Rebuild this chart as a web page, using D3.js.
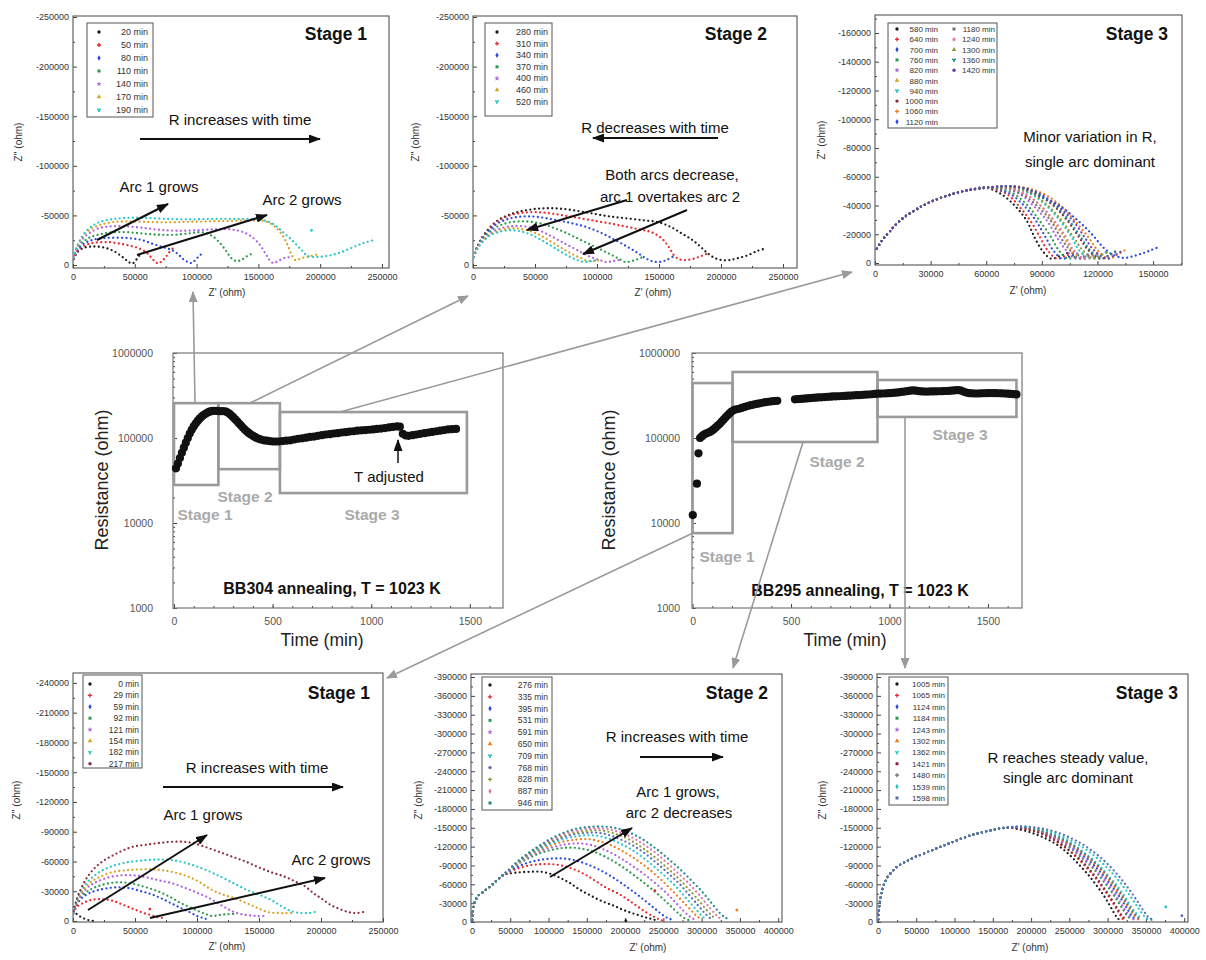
<!DOCTYPE html>
<html>
<head>
<meta charset="utf-8">
<script src="https://cdn.jsdelivr.net/npm/d3@7"></script>
<style>
  body { margin: 0; background: #fff; }
  svg { display: block; font-family: "Liberation Sans", Arial, sans-serif; }
</style>
</head>
<body>
<svg id="fig" width="1206" height="960"></svg>
<script>
// ---------------- data (impedance in kOhm, time in min) ----------------

// BB304, stage 1 (top left)
const tlTimes = [20, 50, 80, 110, 140, 170, 190];
const tlArcs = [
  [[0.5,6],[3,12],[8,17],[14,18.5],[20,18.5],[27,17],[33,14],[38,10],[42,6],[45,3],[48,1.5],[51,5],[54,10],[56,12]],
  [[0.5,6],[3,13],[8,19],[15,22],[22,23],[30,23],[38,21.5],[46,19.5],[53,17],[59,13],[63,8],[66,4],[69,1.5],[72,4],[75,8],[78,13],[81,17]],
  [[0.5,7],[3,14],[8,21],[15,25],[24,27],[35,27.5],[46,27],[56,25],[65,21],[73,18],[80,15],[85,11],[89,6],[93,3],[96,2],[99,5],[102,9],[105,12]],
  [[0.5,7],[3,15],[8,23],[14,28],[22,31],[32,33],[45,33],[58,31.5],[70,30.5],[82,30.5],[95,32],[105,33],[113,29],[119,22],[124,14],[128,7],[132,4],[136,5],[141,9],[146,12]],
  [[0.5,7],[3,16],[7,25],[13,32],[21,37],[31,39],[43,39],[56,37.5],[70,35.5],[85,34.5],[100,35],[114,36],[127,36],[138,33],[146,27],[152,19],[156,11],[159,5],[162,2],[166,4],[171,7],[176,8]],
  [[0.5,8],[3,17],[7,27],[13,35],[21,40],[31,43],[43,44],[58,43.5],[75,43],[92,43.5],[110,44],[128,44.5],[145,45],[156,44],[164,38],[170,29],[174,19],[177,10],[180,5],[185,7],[192,9],[200,11]],
  [[0.5,8],[3,18],[7,28],[13,37],[21,43],[31,46],[43,47.5],[58,47.5],[75,46.5],[95,46],[115,46.5],[135,46.5],[150,46],[161,42],[170,33],[178,24],[185,15],[190,9],[197,8],[205,9],[215,12],[225,17],[235,22],[243,25]]
];
const tlStray = [[6, 193, 35]];   // [series, Z', -Z'']

// BB304, stage 2 (top middle)
const tmTimes = [280, 310, 340, 370, 400, 460, 520];
const tmArcs = [
  [[0.5,8],[3,17],[7,27],[13,37],[20,45],[30,51],[42,55],[55,57],[68,57],[82,55],[96,52],[110,49],[124,47],[138,45],[150,43],[160,38],[168,32],[176,26],[183,19],[189,12],[195,7],[201,5],[207,5],[214,7],[222,10],[229,14],[234,16]],
  [[0.5,8],[3,17],[7,27],[13,36],[20,44],[30,50],[42,53],[55,53],[68,51],[82,48],[96,45],[110,42],[122,39],[134,36],[144,33],[152,27],[158,18],[162,10],[166,6],[171,5],[177,6],[184,9],[190,12]],
  [[0.5,8],[3,17],[7,26],[13,35],[20,42],[30,47],[42,49],[55,48],[68,45],[80,42],[92,38],[104,32],[115,25],[125,18],[133,12],[139,7],[144,4],[150,3],[156,5],[162,9]],
  [[0.5,8],[3,16],[7,25],[13,33],[20,39],[30,43],[42,44],[54,42],[64,38],[74,33],[84,27],[94,21],[104,15],[112,10],[118,6],[123,3],[128,4],[133,6],[137,8]],
  [[0.5,8],[3,16],[7,24],[13,31],[20,36],[30,39],[41,39],[51,36],[60,31],[69,25],[78,19],[87,13],[95,8],[102,5],[108,3],[113,4],[118,5]],
  [[0.5,8],[3,15],[7,23],[13,30],[20,34],[30,37],[40,36],[49,33],[57,28],[65,22],[73,16],[80,11],[87,7],[93,4],[98,4],[103,5]],
  [[0.5,8],[3,15],[7,22],[13,29],[20,33],[29,35],[38,34],[46,31],[54,26],[62,20],[70,14],[77,9],[84,5],[90,3],[95,4],[100,5]]
];

// BB304, stage 3 (top right): shared high-frequency part + each spectrum's tail
const trTimes = [580, 640, 700, 760, 820, 880, 940, 1000, 1060, 1120, 1180, 1240, 1300, 1360, 1420];
const trHead = [[1,10],[4,16],[8,22],[14,30],[22,37],[31,43],[42,48],[52,51]];
const trTails = [
  [[59,52.5],[68,48],[76,39],[82,29],[86,18],[90,9],[95,3],[100,5],[104,7]],
  [[61,52.5],[71,48],[78,39],[84,29],[89,18],[93,9],[98,3],[103,5],[107,7]],
  [[63,52.5],[73,48],[81,39],[87,29],[92,18],[96,9],[101,3],[106,5],[110,7]],
  [[64,52.5],[75,48],[83,39],[89,29],[95,18],[99,9],[104,3],[109,5],[113,7]],
  [[67,52.5],[78,48],[86,39],[93,29],[98,18],[103,9],[108,3],[113,5],[117,7]],
  [[69,52.5],[81,48],[90,39],[96,29],[102,18],[106,9],[112,3],[117,5],[121,7]],
  [[72,52.5],[84,48],[93,39],[100,29],[106,18],[110,9],[116,3],[121,5],[125,8]],
  [[75,53],[87,48],[97,39],[104,29],[110,18],[115,9],[121,3],[126,5],[130,8]],
  [[78,53],[91,48],[101,39],[108,29],[115,18],[120,9],[126,3],[131,6],[135,9]],
  [[75,53],[87,47],[98,41],[109,30],[117,20],[123,11],[128,6],[134,3.5],[140,5],[145,7],[149,9],[153,11]],
  [[68,52.5],[79,48],[88,39],[95,29],[100,18],[105,9],[110,3],[115,5],[119,7]],
  [[70,52.5],[81,48],[90,39],[97,29],[103,18],[107,9],[113,3],[118,5],[122,7]],
  [[73,52.5],[85,48],[94,39],[101,29],[107,18],[112,9],[118,3],[123,6],[127,8]],
  [[76,53],[88,48],[98,39],[105,29],[111,18],[116,9],[122,3],[127,6],[131,9]],
  [[77,53],[89,48],[99,39],[107,29],[113,18],[118,9],[125,3],[130,6],[134,9]]
];

// BB295, stage 1 (bottom left)
const blTimes = [0, 29, 59, 92, 121, 154, 182, 217];
const blArcs = [
  [[0.3,10],[2,8],[5,5],[8,3],[11,1.5],[14,0.5],[16,0.2]],
  [[0.5,8],[3,14],[8,18],[14,21],[20,22],[27,21.5],[33,20],[39,17],[45,14],[51,11],[57,8],[63,6],[68,4],[73,3]],
  [[0.5,8],[3,16],[7,23],[13,28],[20,31],[28,33],[37,34],[46,33],[55,30],[63,27],[71,23],[79,18],[87,13],[94,9],[100,5],[105,3],[109,1.5]],
  [[0.5,8],[3,17],[7,25],[13,31],[20,35],[29,38],[38,39],[47,38],[56,35],[64,32],[72,28],[80,23],[87,18],[94,14],[101,10],[107,7],[112,5],[118,6],[125,7],[131,7]],
  [[0.5,8],[3,18],[7,27],[13,35],[20,40],[29,44],[39,46],[49,46],[59,44],[69,41],[80,38],[91,33],[101,28],[110,23],[118,17],[125,12],[132,8],[140,6],[148,5],[154,5]],
  [[0.5,9],[3,19],[7,29],[13,38],[21,44],[31,49],[42,51],[54,52],[66,52],[78,50],[90,46],[101,40],[111,32],[120,27],[130,23],[140,18],[149,13],[157,9],[165,8],[172,8],[176,8]],
  [[0.5,9],[3,20],[7,31],[13,41],[21,49],[31,55],[43,59],[56,61],[69,62],[82,61],[95,57],[108,51],[120,44],[131,37],[141,31],[151,26],[160,21],[168,15],[176,10],[184,8],[190,8],[195,9]],
  [[0.5,10],[3,22],[7,34],[12,45],[18,54],[25,61],[32,66],[40,71],[49,75],[60,77],[72,79],[84,80],[95,79],[106,75],[117,70],[128,65],[139,60],[150,54],[160,49],[170,45],[179,40],[187,35],[194,28],[201,22],[208,16],[215,12],[222,9],[228,8],[234,9]]
];
const blStray = [[1, 62, 12]];

// BB295, stage 2 (bottom middle)
const bmTimes = [276, 335, 395, 531, 591, 650, 709, 768, 828, 887, 946];
const bmHead = [[0.2,3],[0.8,12],[1.7,22],[3.5,31],[6,38],[10,44],[15,48],[20,53],[27,60],[34,68],[41,75]];
const bmTails = [
  [[48,77],[62,79],[76,80],[90,80],[104,76],[117,69],[128,62],[140,52],[155,42],[170,33],[185,26],[198,19],[212,13],[225,8],[234,5],[240,3]],
  [[46,78],[60,85],[75,90],[90,92],[105,92],[120,89],[135,83],[150,74],[163,64],[176,54],[190,46],[203,36],[216,25],[228,15],[238,8],[245,4],[250,2]],
  [[46,79],[60,88],[75,95],[90,99],[105,101],[120,101],[135,98],[150,92],[165,84],[180,74],[195,62],[210,49],[225,35],[238,22],[248,12],[256,6],[263,3]],
  [[46,80],[60,92],[75,102],[90,110],[105,115],[120,118],[135,118],[150,115],[165,109],[180,100],[195,89],[210,76],[225,62],[240,47],[253,33],[264,20],[273,10],[279,5],[283,3]],
  [[46,80],[60,93],[75,104],[90,113],[105,119],[120,123],[135,125],[150,124],[165,119],[180,111],[195,101],[210,89],[225,76],[240,61],[254,46],[266,31],[276,18],[284,9],[289,5],[292,3]],
  [[46,80],[60,94],[75,106],[90,115],[105,123],[120,128],[135,131],[150,132],[165,129],[180,123],[195,114],[210,103],[225,90],[240,75],[254,59],[267,43],[279,28],[289,15],[295,8],[300,4]],
  [[46,80],[60,94],[75,107],[90,117],[105,126],[120,132],[135,136],[150,138],[165,137],[180,132],[195,124],[210,114],[225,101],[240,86],[255,70],[269,53],[281,36],[292,21],[300,10],[306,4]],
  [[46,80],[60,95],[75,108],[90,119],[105,128],[120,135],[135,140],[150,142],[165,142],[180,138],[195,131],[210,122],[225,110],[240,95],[255,79],[270,62],[283,44],[295,27],[304,14],[312,5]],
  [[46,80],[60,95],[75,109],[90,120],[105,130],[120,137],[135,142],[150,145],[165,146],[180,143],[195,137],[210,128],[225,116],[240,102],[255,86],[270,69],[284,51],[297,33],[308,17],[315,8],[318,4]],
  [[46,80],[60,96],[75,110],[90,122],[105,132],[120,140],[135,145],[150,148],[165,149],[180,147],[195,142],[210,134],[225,123],[240,110],[255,94],[270,77],[285,59],[299,40],[311,22],[320,10],[326,4]],
  [[46,81],[60,97],[75,111],[90,123],[105,134],[120,142],[135,148],[150,151],[165,152],[180,151],[195,147],[210,140],[225,130],[240,117],[255,102],[270,86],[285,68],[300,49],[313,30],[324,14],[331,7],[336,4]]
];
const bmStray = [[1, 239, 50], [5, 346, 19], [0, 201, 2]];

// BB295, stage 3 (bottom right)
const brTimes = [1005, 1065, 1124, 1184, 1243, 1302, 1362, 1421, 1480, 1539, 1598];
const brHead = [[0.3,4],[1.5,22],[3.5,40],[6,53],[9,63],[13,72],[18,80],[25,88],[35,95],[48,103],[62,110],[78,118],[95,126],[112,134],[130,141],[148,146],[166,150]];
const brTails = [
  [[186,147],[203,141],[219,133],[235,122],[250,107],[262,92],[274,76],[285,59],[295,42],[303,26],[309,13],[313,6],[316,3]],
  [[188,149],[206,144],[222,136],[238,124],[253,110],[266,95],[278,79],[289,62],[299,45],[308,28],[315,14],[319,6],[322,3]],
  [[188,150],[207,146],[224,139],[241,129],[257,116],[272,102],[285,87],[297,70],[308,53],[318,36],[326,20],[332,9],[337,4]],
  [[188,150],[206,145],[223,138],[239,127],[255,114],[269,99],[282,84],[293,67],[304,50],[313,33],[321,18],[327,8],[332,4]],
  [[188,150],[207,146],[223,138],[240,128],[256,115],[270,100],[283,85],[295,68],[306,51],[315,34],[323,19],[329,9],[334,4]],
  [[188,151],[207,147],[225,140],[242,130],[258,118],[273,104],[286,89],[298,72],[309,55],[319,38],[328,22],[335,10],[340,4]],
  [[188,151],[208,148],[226,141],[243,132],[259,120],[274,106],[288,91],[300,75],[312,58],[322,41],[331,24],[339,11],[345,5]],
  [[188,149],[206,144],[222,136],[238,125],[253,111],[267,96],[279,80],[290,63],[300,46],[309,29],[316,15],[321,7],[325,3]],
  [[188,151],[207,147],[225,140],[242,131],[258,119],[273,105],[287,90],[299,74],[310,57],[320,40],[329,23],[337,10],[342,4]],
  [[188,152],[208,149],[227,143],[245,134],[262,123],[278,110],[292,95],[305,79],[317,62],[328,44],[338,26],[346,12],[352,5],[360,3]],
  [[188,152],[209,150],[228,145],[246,137],[264,126],[280,113],[295,98],[308,82],[320,65],[331,47],[341,29],[349,14],[355,6],[362,4]]
];
const brStray = [[9, 376, 24], [10, 397, 10]];

// resistance vs time, [min, kOhm]
const bb304Res = [
  [10,44],[20,50],[30,58],[40,67],[50,77],[60,88],[70,100],[80,113],[90,125],[100,137],[110,148],[120,159],[130,169],[140,178],[150,186],[160,193],[170,199],[180,204],[190,207],[200,208],[215,208],[230,207],[245,207],[260,206],[270,201],[280,194],[290,185],[300,176],[310,166],[320,157],[330,148],[340,140],[350,132],[360,125],[370,119],[380,114],[390,110],[400,106],[410,103],[420,100],[430,98],[440,96],[455,94],[470,93],[485,92],[500,91],[515,91],[530,91],
  [550,92],[570,93],[590,94],[610,96],[630,98],[650,99],[670,101],[690,103],[710,104],[730,106],[750,108],[770,110],[790,111],[810,113],[830,114],[850,116],[870,117],[890,119],[910,120],[930,122],[950,123],[970,124],[990,125],[1010,126],[1030,128],[1050,129],[1070,131],[1090,133],[1110,135],[1130,137],[1145,136],
  [1160,112],[1175,107],[1190,106],[1210,108],[1230,110],[1250,112],[1270,114],[1290,116],[1310,118],[1330,120],[1350,122],[1370,124],[1390,126],[1410,127],[1430,128]
];
const bb295Res = [
  [1,12.4],[22,29],[30,66],[38,100],[48,105],[58,110],[68,113],[78,115],[88,118],[98,122],[108,127],[118,133],[128,140],[138,147],[148,156],[158,165],[168,175],[178,185],[188,195],[198,205],[210,213],[222,218],[236,221],[250,226],[265,232],[280,238],[295,243],[310,247],[325,252],[340,256],[355,260],[370,264],[385,267],[400,270],[415,272],[430,274],
  [520,285],[535,287],[550,288],[565,290],[580,292],[595,294],[610,296],[625,298],[640,300],[655,301],[670,303],[685,305],[700,306],[715,308],[730,309],[745,310],[760,312],[775,313],[790,315],[805,316],[820,318],[835,319],[850,320],[865,322],[880,324],[895,325],[910,327],[925,330],[940,332],[955,333],[970,334],[985,335],[1000,337],[1015,339],[1030,341],[1045,344],[1060,348],[1075,352],[1090,356],[1105,360],[1120,363],[1135,360],[1150,356],[1165,353],[1180,352],[1195,352],[1210,353],[1225,353],[1240,354],[1255,355],[1270,356],[1285,357],[1300,358],[1315,360],[1330,363],[1345,366],[1360,363],[1375,352],[1390,342],[1405,337],[1420,335],[1435,334],[1450,334],[1465,335],[1480,336],[1495,337],[1510,338],[1525,338],[1540,337],[1555,336],[1570,335],[1585,334],[1600,332],[1615,330],[1630,328],[1645,326]
];
// stage windows [t0, t1, Rlow, Rhigh] (min, kOhm)
const bb304Stages = [[0,225,28,257],[225,537,43,257],[537,1485,22.5,202]];
const bb295Stages = [[0,203,7.6,443],[203,939,89.8,598],[939,1645,177,481]];

// ---------------- drawing ----------------
const K = 1000;
const FONT = "'Liberation Sans', Arial, sans-serif";
const svg = d3.select("#fig");
const defs = svg.append("defs");
const fmt = d3.format("d");

const C = {k:"#1a1a1a", r:"#e8282b", b:"#2848e0", g:"#2a9a4a", p:"#b060e0", o:"#d9a020",
           c:"#25c6c6", br:"#8a2a3a", or:"#f07a18", gy:"#707070", pk:"#e070b0", ol:"#8a9a30",
           tl:"#1a8a8a", nv:"#5a6ab8", vi:"#6a3ab0"};

function arrowHead(id, color, w, h) {
  defs.append("marker").attr("id", id)
    .attr("viewBox", `0 0 ${w} ${h}`).attr("refX", w - 1).attr("refY", h / 2)
    .attr("markerWidth", w).attr("markerHeight", h)
    .attr("markerUnits", "userSpaceOnUse").attr("orient", "auto")
    .append("path").attr("d", `M0,0L${w},${h/2}L0,${h}z`).attr("fill", color);
}
arrowHead("ahBlack", "#111", 12, 9);
arrowHead("ahGray", "#9a9a9a", 11, 9);

function arrow(g, a, color, width, head) {
  g.append("line")
    .attr("x1", a[0]).attr("y1", a[1]).attr("x2", a[2]).attr("y2", a[3])
    .attr("stroke", color).attr("stroke-width", width)
    .attr("marker-end", `url(#${head})`);
}

function styleAxis(s, fs, col) {
  s.select(".domain").remove();
  s.selectAll("text").attr("font-size", fs).attr("font-family", FONT).attr("fill", col || "#333");
  s.selectAll("line").attr("stroke", "#444");
}

function range(a, b, step) { return d3.range(a, b + step / 2, step); }

function nyquist(p) {
  const g = svg.append("g");
  const [L, T, R, B] = p.box;
  const x = d3.scaleLinear().domain(p.xd).range([L, R]);
  const y = d3.scaleLinear().domain(p.yd).range([B, T]);

  g.append("g").attr("transform", `translate(0,${B})`)
    .call(d3.axisBottom(x).tickValues(p.xt).tickSize(-4).tickPadding(6).tickFormat(fmt))
    .call(styleAxis, 9);
  g.append("g").attr("transform", `translate(0,${B})`)
    .call(d3.axisBottom(x).tickValues(p.xm).tickSize(-2).tickFormat(""))
    .call(styleAxis, 9);
  g.append("g").attr("transform", `translate(${L},0)`)
    .call(d3.axisLeft(y).tickValues(p.yt).tickSize(-4).tickPadding(4)
      .tickFormat(d => d ? "-" + fmt(d) : "0"))
    .call(styleAxis, 9);
  g.append("g").attr("transform", `translate(${L},0)`)
    .call(d3.axisLeft(y).tickValues(p.ym).tickSize(-2).tickFormat(""))
    .call(styleAxis, 9);

  g.append("rect").attr("x", L).attr("y", T).attr("width", R - L).attr("height", B - T)
    .attr("fill", "none").attr("stroke", "#555").attr("stroke-width", 1.1);

  const cid = "clip-" + p.name;
  defs.append("clipPath").attr("id", cid).append("rect")
    .attr("x", L).attr("y", T).attr("width", R - L).attr("height", B - T);

  const line = d3.line()
    .x(d => x(d[0] * K)).y(d => y(d[1] * K))
    .curve(d3.curveCatmullRom.alpha(0.5));

  const plot = g.append("g").attr("clip-path", `url(#${cid})`);
  plot.selectAll("path").data(p.arcs).join("path")
    .attr("d", line).attr("fill", "none")
    .attr("stroke", (d, i) => p.colors[i])
    .attr("stroke-width", 2.3).attr("stroke-linecap", "round")
    .attr("stroke-dasharray", "0 4.4");
  plot.selectAll("circle").data(p.stray || []).join("circle")
    .attr("cx", d => x(d[1] * K)).attr("cy", d => y(d[2] * K)).attr("r", 1.4)
    .attr("fill", d => p.colors[d[0]]);

  // legend
  const lg = p.legend;
  g.append("rect").attr("x", lg.x).attr("y", lg.y).attr("width", lg.w).attr("height", lg.h)
    .attr("fill", "#fff").attr("stroke", "#555").attr("stroke-width", 1);
  const syms = d3.symbolsFill || d3.symbols;
  p.times.forEach((t, i) => {
    const col = Math.floor(i / lg.rows), row = i % lg.rows;
    const cy = lg.row0 + row * lg.pitch;
    g.append("path")
      .attr("transform", `translate(${lg.x + lg.mx + col * lg.colw},${cy})`)
      .attr("d", d3.symbol(syms[i % syms.length], 9)())
      .attr("fill", p.colors[i]);
    g.append("text")
      .attr("x", lg.x + lg.tx + col * lg.colw).attr("y", cy + 3)
      .attr("text-anchor", "end").attr("font-size", lg.fs).attr("fill", "#333")
      .text(t + " min");
  });

  // labels
  g.append("text").attr("x", p.title[0]).attr("y", p.title[1]).attr("text-anchor", "end")
    .attr("font-size", 17.5).attr("font-weight", "bold").attr("fill", "#111").text(p.title[2]);
  g.append("text").attr("transform", `translate(${p.ylab[0]},${p.ylab[1]}) rotate(-90)`)
    .attr("text-anchor", "middle").attr("font-size", 10).attr("fill", "#333").text("Z'' (ohm)");
  g.append("text").attr("x", p.xlab[0]).attr("y", p.xlab[1])
    .attr("text-anchor", "middle").attr("font-size", 10).attr("fill", "#333").text("Z' (ohm)");
  p.notes.forEach(n => {
    g.append("text").attr("x", n[1]).attr("y", n[2]).attr("text-anchor", "middle")
      .attr("font-size", 15).attr("fill", "#111").text(n[0]);
  });
  p.arrows.forEach(a => arrow(g, a, "#111", 2, "ahBlack"));
}

function timePanel(p) {
  const g = svg.append("g");
  const [L, T, R, B] = p.box;
  const x = d3.scaleLinear().domain(p.xd).range([L, R]);
  const y = d3.scaleLog().domain([1000, 1e6]).range([B, T]);
  const minorY = [];
  [1e3, 1e4, 1e5].forEach(d => d3.range(2, 10).forEach(m => minorY.push(d * m)));

  g.append("g").attr("transform", `translate(0,${B})`)
    .call(d3.axisBottom(x).tickValues([0, 500, 1000, 1500]).tickSize(-4).tickPadding(10).tickFormat(fmt))
    .call(styleAxis, 10.5, "#555");
  g.append("g").attr("transform", `translate(0,${B})`)
    .call(d3.axisBottom(x).tickValues(d3.range(100, p.xd[1], 100)).tickSize(-2).tickFormat(""))
    .call(styleAxis, 10);
  g.append("g").attr("transform", `translate(${L},0)`)
    .call(d3.axisLeft(y).tickValues([1e3, 1e4, 1e5, 1e6]).tickSize(-4).tickPadding(p.ypad).tickFormat(fmt))
    .call(styleAxis, 10.5, "#555");
  g.append("g").attr("transform", `translate(${L},0)`)
    .call(d3.axisLeft(y).tickValues(minorY).tickSize(-2).tickFormat(""))
    .call(styleAxis, 10);

  g.append("rect").attr("x", L).attr("y", T).attr("width", R - L).attr("height", B - T)
    .attr("fill", "none").attr("stroke", "#777").attr("stroke-width", 1.2);

  g.append("g").selectAll("rect").data(p.stages).join("rect")
    .attr("x", d => x(d[0])).attr("width", d => x(d[1]) - x(d[0]))
    .attr("y", d => y(d[3] * K)).attr("height", d => y(d[2] * K) - y(d[3] * K))
    .attr("fill", "none").attr("stroke", "#9a9a9a").attr("stroke-width", 2.6);

  g.append("g").selectAll("circle").data(p.points).join("circle")
    .attr("cx", d => x(d[0])).attr("cy", d => y(d[1] * K)).attr("r", 4.1)
    .attr("fill", "#111");

  p.stageLabels.forEach(s => {
    g.append("text").attr("x", s[1]).attr("y", s[2]).attr("text-anchor", "middle")
      .attr("font-size", 15.5).attr("font-weight", "bold").attr("fill", "#aaa").text(s[0]);
  });
  g.append("text").attr("transform", `translate(${p.ylab[0]},${p.ylab[1]}) rotate(-90)`)
    .attr("text-anchor", "middle").attr("font-size", 18).attr("fill", "#222").text("Resistance (ohm)");
  g.append("text").attr("x", p.xlab[0]).attr("y", p.xlab[1]).attr("text-anchor", "middle")
    .attr("font-size", 17.5).attr("fill", "#222").text("Time (min)");
  g.append("text").attr("x", p.name[1]).attr("y", p.name[2]).attr("text-anchor", "middle")
    .attr("font-size", 16).attr("font-weight", "bold").attr("fill", "#111").text(p.name[0]);
  return g;
}

// ---------- impedance panels ----------
const xt250 = range(0, 250000, 50000), xm250 = range(25000, 225000, 50000);
const yt250 = range(0, 250000, 50000), ym250 = range(25000, 225000, 50000);

nyquist({
  name: "tl", box: [73, 16, 389, 268], xd: [0, 255700], yd: [-3000, 251000],
  xt: xt250, xm: xm250, yt: yt250, ym: ym250,
  arcs: tlArcs, stray: tlStray, times: tlTimes, colors: [C.k, C.r, C.b, C.g, C.p, C.o, C.c],
  legend: {x: 87, y: 23, w: 66, h: 94, rows: 7, row0: 32, pitch: 13, mx: 12, tx: 61, colw: 0, fs: 9},
  title: [367, 40, "Stage 1"], ylab: [22, 142], xlab: [227, 296],
  notes: [["R increases with time", 240, 125], ["Arc 1 grows", 159, 192], ["Arc 2 grows", 302, 205]],
  arrows: [[140, 139, 320, 139], [97, 240, 168, 204], [137, 255, 267, 215]]
});

nyquist({
  name: "tm", box: [473, 16, 797, 268], xd: [0, 261300], yd: [-3000, 251000],
  xt: xt250, xm: xm250, yt: yt250, ym: ym250,
  arcs: tmArcs, times: tmTimes, colors: [C.k, C.r, C.b, C.g, C.p, C.o, C.c],
  legend: {x: 485, y: 23, w: 67, h: 93, rows: 7, row0: 32, pitch: 11.6, mx: 12, tx: 63, colw: 0, fs: 9},
  title: [767, 40, "Stage 2"], ylab: [419, 142], xlab: [653, 296],
  notes: [["R decreases with time", 655, 133], ["Both arcs decrease,", 672, 180], ["arc 1 overtakes arc 2", 670, 202]],
  arrows: [[718, 138, 593, 138], [627, 200, 527, 230], [687, 210, 583, 254]]
});

nyquist({
  name: "tr", box: [875, 15, 1182, 265], xd: [0, 165600], yd: [-1400, 172500],
  xt: range(0, 150000, 30000), xm: range(15000, 165000, 30000),
  yt: range(0, 160000, 20000), ym: range(10000, 170000, 20000),
  arcs: trTails.map(t => trHead.concat(t)), times: trTimes,
  colors: [C.k, C.r, C.b, C.g, C.p, C.o, C.c, C.br, C.or, C.b, C.gy, C.pk, C.ol, C.tl, C.vi],
  legend: {x: 888, y: 23, w: 109, h: 105, rows: 10, row0: 29, pitch: 10.3, mx: 9, tx: 50, colw: 57, fs: 8},
  title: [1168, 40, "Stage 3"], ylab: [825, 140], xlab: [1028, 294],
  notes: [["Minor variation in R,", 1090, 142], ["single arc dominant", 1090, 167]],
  arrows: []
});

nyquist({
  name: "bl", box: [73, 673, 383, 922], xd: [0, 250000], yd: [-1000, 250000],
  xt: xt250, xm: xm250, yt: range(0, 240000, 30000), ym: range(15000, 240000, 30000),
  arcs: blArcs, stray: blStray, times: blTimes, colors: [C.k, C.r, C.b, C.g, C.p, C.o, C.c, C.br],
  legend: {x: 83, y: 675, w: 59, h: 93, rows: 8, row0: 684, pitch: 11.4, mx: 7, tx: 56, colw: 0, fs: 8.5},
  title: [370, 699, "Stage 1"], ylab: [20, 800], xlab: [227, 950],
  notes: [["R increases with time", 257, 773], ["Arc 1 grows", 203, 820], ["Arc 2 grows", 331, 865]],
  arrows: [[163, 787, 343, 787], [88, 910, 207, 835], [150, 918, 325, 878]]
});

const yt390 = range(0, 390000, 30000), ym390 = range(15000, 390000, 30000);
const xt400 = range(0, 400000, 50000), xm400 = range(25000, 400000, 50000);

nyquist({
  name: "bm", box: [471, 674, 782, 922], xd: [-1300, 405000], yd: [0, 394800],
  xt: xt400, xm: xm400, yt: yt390, ym: ym390,
  arcs: bmTails.map(t => bmHead.concat(t)), stray: bmStray, times: bmTimes,
  colors: [C.k, C.r, C.b, C.g, C.p, C.or, C.c, C.nv, C.ol, C.pk, C.tl],
  legend: {x: 482, y: 677, w: 70, h: 133, rows: 11, row0: 685, pitch: 11.8, mx: 8, tx: 66, colw: 0, fs: 8.5},
  title: [768, 699, "Stage 2"], ylab: [422, 800], xlab: [648, 951],
  notes: [["R increases with time", 677, 742], ["Arc 1 grows,", 678, 797], ["arc 2 decreases", 679, 818]],
  arrows: [[640, 757, 723, 757], [550, 877, 632, 828]]
});

nyquist({
  name: "br", box: [877, 674, 1188, 922], xd: [-1300, 405000], yd: [0, 394800],
  xt: xt400, xm: xm400, yt: yt390, ym: ym390,
  arcs: brTails.map(t => brHead.concat(t)), stray: brStray, times: brTimes,
  colors: [C.k, C.r, C.b, C.g, C.p, C.or, C.c, C.br, C.gy, C.c, C.nv],
  legend: {x: 889, y: 677, w: 59, h: 128, rows: 11, row0: 684, pitch: 11.4, mx: 8, tx: 56, colw: 0, fs: 8},
  title: [1178, 699, "Stage 3"], ylab: [826, 800], xlab: [1030, 951],
  notes: [["R reaches steady value,", 1068, 763], ["single arc dominant", 1068, 783]],
  arrows: []
});

// ---------- resistance vs time ----------
const gl = timePanel({
  box: [173, 353, 503, 608], xd: [-5, 1668], ypad: 20,
  points: bb304Res, stages: bb304Stages,
  stageLabels: [["Stage 1", 205, 520], ["Stage 2", 245, 502], ["Stage 3", 372, 520]],
  ylab: [108, 480], xlab: [322, 646], name: ["BB304 annealing, T = 1023 K", 332, 594]
});
gl.append("text").attr("x", 389).attr("y", 482).attr("text-anchor", "middle")
  .attr("font-size", 15).attr("fill", "#111").text("T adjusted");
arrow(gl, [398, 463, 398, 440], "#111", 1.5, "ahBlack");

timePanel({
  box: [692, 353, 1022, 608], xd: [-3, 1673], ypad: 12,
  points: bb295Res, stages: bb295Stages,
  stageLabels: [["Stage 1", 727, 562], ["Stage 2", 837, 467], ["Stage 3", 960, 440]],
  ylab: [615, 480], xlab: [845, 646], name: ["BB295 annealing, T = 1023 K", 860, 596]
});

// gray connectors from stage windows to impedance panels
const conn = svg.append("g");
[[195, 403, 193, 292], [250, 403, 468, 296], [340, 412, 852, 272],
 [693, 533, 387, 678], [803, 442, 733, 668], [905, 417, 905, 668]]
  .forEach(a => arrow(conn, a, "#9a9a9a", 1.6, "ahGray"));
</script>
</body>
</html>
